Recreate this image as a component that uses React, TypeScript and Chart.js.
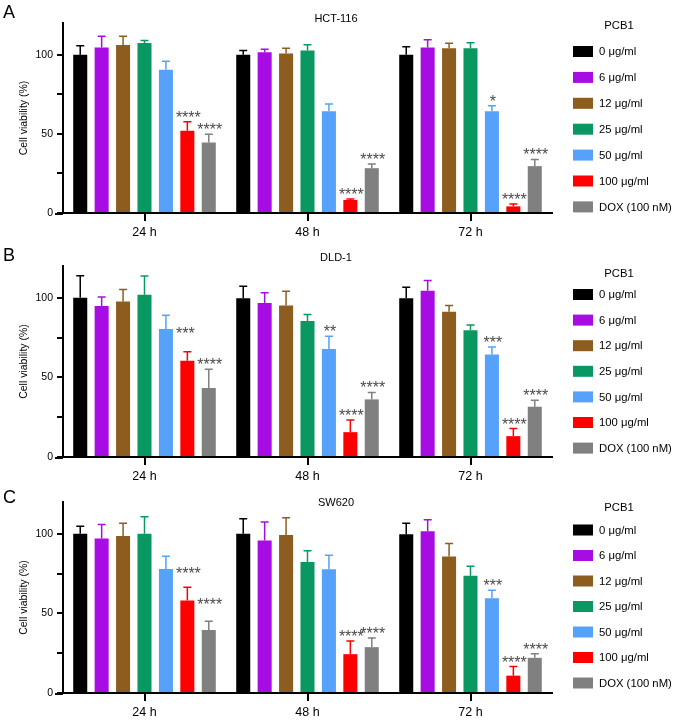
import React, { useEffect, useRef } from 'react';
import { Chart, registerables } from 'chart.js';

Chart.register(...registerables);

const FONT = '"Liberation Sans", Arial, Helvetica, sans-serif';

const categories = ['24 h', '48 h', '72 h'];
const seriesLabels = ['0 μg/ml', '6 μg/ml', '12 μg/ml', '25 μg/ml', '50 μg/ml', '100 μg/ml', 'DOX (100 nM)'];
const seriesColors = ['#000000', '#a70de2', '#8d5d1f', '#0a9862', '#56a2fa', '#ff0000', '#808080'];
const legendTitle = 'PCB1';
const yAxisTitle = 'Cell viability (%)';
const yMax = 120;
const yTickValues = [0, 25, 50, 75, 100];
const yLabeledTicks = [0, 50, 100];

// HCT-116 (rows: series, columns: 24 h, 48 h, 72 h)
const hctMeans = [
  [100, 100, 100],
  [104.6, 101.5, 104.6],
  [106.1, 100.8, 104],
  [107.4, 102.7, 104],
  [90.5, 64.3, 64.3],
  [52, 8.2, 4.2],
  [44.6, 28.3, 29.6],
];
const hctErrors = [
  [5.7, 2.7, 5],
  [7, 1.9, 4.9],
  [5.5, 3.2, 3.2],
  [1.5, 3.6, 3.6],
  [5.3, 4.6, 3.4],
  [5.7, 0.7, 1.5],
  [5.1, 2.6, 4.2],
];
const hctSig = [
  ['', '', ''],
  ['', '', ''],
  ['', '', ''],
  ['', '', ''],
  ['', '', '*'],
  ['****', '****', '****'],
  ['****', '****', '****'],
];
const hctSideGroups: string[] = [];

// DLD-1
const dldMeans = [
  [100, 99.8, 99.8],
  [94.9, 96.8, 104.4],
  [97.7, 95.2, 91.2],
  [101.9, 85.5, 79.6],
  [80.4, 67.8, 64.4],
  [60.4, 15.6, 13.1],
  [43.4, 36.2, 31.6],
];
const dldErrors = [
  [13.9, 7.4, 6.9],
  [5.7, 6.4, 6.5],
  [7.6, 9, 4],
  [11.8, 4, 3.3],
  [8.7, 8, 4.7],
  [5.7, 7.6, 4.8],
  [11.8, 4.4, 4],
];
const dldSig = [
  ['', '', ''],
  ['', '', ''],
  ['', '', ''],
  ['', '', ''],
  ['***', '**', '***'],
  ['****', '****', '****'],
  ['', '****', '****'],
];
const dldSideGroups = ['24 h'];

// SW620
const swMeans = [
  [100, 100, 99.8],
  [97.1, 95.8, 101.7],
  [98.7, 99.2, 85.7],
  [100, 82.3, 73.7],
  [77.9, 77.7, 59.6],
  [58.1, 24.4, 10.9],
  [39.6, 28.8, 22.1],
];
const swErrors = [
  [4.8, 9.5, 6.9],
  [8.8, 11.6, 7.1],
  [8, 10.9, 8.2],
  [10.7, 7, 5.9],
  [8, 8.8, 5],
  [8.4, 8.2, 5.7],
  [5.5, 5.7, 2.5],
];
const swSig = [
  ['', '', ''],
  ['', '', ''],
  ['', '', ''],
  ['', '', ''],
  ['****', '', '***'],
  ['****', '****', '****'],
  ['', '****', '****'],
];
const swSideGroups = ['24 h'];

const panels = [
  { letter: 'A', title: 'HCT-116', means: hctMeans, errors: hctErrors, sig: hctSig, side: hctSideGroups,
    top: 0, height: 238, padTop: 23, letterY: 13, titleY: 19, legendTitleY: 26, legendRowY: 51.5, legendStep: 25.9 },
  { letter: 'B', title: 'DLD-1', means: dldMeans, errors: dldErrors, sig: dldSig, side: dldSideGroups,
    top: 238, height: 244, padTop: 28, letterY: 18, titleY: 20, legendTitleY: 36, legendRowY: 56.5, legendStep: 25.6 },
  { letter: 'C', title: 'SW620', means: swMeans, errors: swErrors, sig: swSig, side: swSideGroups,
    top: 482, height: 236, padTop: 20, letterY: 16, titleY: 21, legendTitleY: 26, legendRowY: 48, legendStep: 25.5 },
];

const decorPlugin = {
  id: 'decor',
  afterDatasetsDraw(chart: any, _args: any, opts: any) {
    const { ctx, chartArea, scales } = chart;
    const y = scales.y;
    ctx.save();
    // x axis extension to the left of the y axis
    ctx.strokeStyle = '#000';
    ctx.lineWidth = 2;
    ctx.beginPath();
    ctx.moveTo(chartArea.left - 8, chartArea.bottom + 1);
    ctx.lineTo(chartArea.left, chartArea.bottom + 1);
    ctx.stroke();
    // error bars
    chart.data.datasets.forEach((ds: any, i: number) => {
      const meta = chart.getDatasetMeta(i);
      meta.data.forEach((bar: any, j: number) => {
        const v = ds.data[j];
        const e = ds.errors[j];
        const topPx = y.getPixelForValue(v + e);
        ctx.strokeStyle = ds.backgroundColor;
        ctx.lineWidth = 1.5;
        ctx.beginPath();
        ctx.moveTo(bar.x, bar.y);
        ctx.lineTo(bar.x, topPx);
        ctx.moveTo(bar.x - 4, topPx);
        ctx.lineTo(bar.x + 4, topPx);
        ctx.stroke();
      });
    });
    // significance marks
    ctx.fillStyle = '#4a4a4a';
    ctx.font = `16px ${FONT}`;
    ctx.textBaseline = 'alphabetic';
    chart.data.datasets.forEach((ds: any, i: number) => {
      const meta = chart.getDatasetMeta(i);
      meta.data.forEach((bar: any, j: number) => {
        const s = ds.sig[j];
        if (!s) return;
        const cat = chart.data.labels[j];
        if (opts.side.includes(cat)) {
          ctx.textAlign = 'left';
          ctx.fillText(s, bar.x + bar.width / 2 + 3, bar.y + 9.5);
        } else {
          const topPx = y.getPixelForValue(ds.data[j] + ds.errors[j]);
          ctx.textAlign = 'center';
          ctx.fillText(s, bar.x + 1, topPx + 1);
        }
      });
    });
    ctx.restore();
  },
  afterDraw(chart: any, _args: any, opts: any) {
    const { ctx } = chart;
    ctx.save();
    ctx.fillStyle = '#000';
    ctx.textBaseline = 'middle';
    // panel letter
    ctx.textAlign = 'left';
    ctx.font = `18px ${FONT}`;
    ctx.fillText(opts.letter, 3, opts.letterY);
    // panel title
    ctx.textAlign = 'center';
    ctx.font = `11px ${FONT}`;
    ctx.fillText(opts.title, 336, opts.titleY);
    // legend
    ctx.font = `11.3px ${FONT}`;
    ctx.fillText(legendTitle, 619, opts.legendTitleY);
    ctx.textAlign = 'left';
    chart.data.datasets.forEach((ds: any, i: number) => {
      const cy = opts.legendRowY + i * opts.legendStep;
      ctx.fillStyle = ds.backgroundColor;
      ctx.fillRect(573, cy - 5.5, 20, 11);
      ctx.fillStyle = '#000';
      ctx.fillText(ds.label, 599, cy + 0.5);
    });
    ctx.restore();
  },
};

function Panel({ cfg }: { cfg: any }) {
  const ref = useRef<HTMLCanvasElement | null>(null);
  useEffect(() => {
    if (!ref.current) return;
    const chart = new Chart(ref.current, {
      type: 'bar',
      data: {
        labels: categories,
        datasets: seriesLabels.map((label, i) => ({
          label,
          data: cfg.means[i],
          errors: cfg.errors[i],
          sig: cfg.sig[i],
          backgroundColor: seriesColors[i],
          borderWidth: 0,
          barPercentage: 0.655,
          categoryPercentage: 0.92,
        })) as any,
      },
      options: {
        responsive: false,
        animation: false,
        devicePixelRatio: 1,
        layout: { padding: { left: 10, right: 125, top: cfg.padTop, bottom: 0 } },
        plugins: {
          legend: { display: false },
          title: { display: false },
          tooltip: { enabled: false },
          decor: {
            letter: cfg.letter, title: cfg.title, side: cfg.side, letterY: cfg.letterY, titleY: cfg.titleY,
            legendTitleY: cfg.legendTitleY, legendRowY: cfg.legendRowY, legendStep: cfg.legendStep,
          },
        } as any,
        scales: {
          x: {
            offset: true,
            grid: { display: true, drawOnChartArea: false, drawTicks: true, tickLength: 8, offset: false, color: '#000', lineWidth: 2 },
            border: { display: true, color: '#000', width: 2 },
            ticks: { color: '#000', font: { family: FONT, size: 12.5 }, padding: 4 },
            afterFit: (s: any) => { s.height = 25; },
          },
          y: {
            min: 0,
            max: yMax,
            grid: { display: true, drawOnChartArea: false, drawTicks: true, tickLength: 6, color: '#000', lineWidth: 2 },
            border: { display: true, color: '#000', width: 2 },
            afterBuildTicks: (s: any) => { s.ticks = yTickValues.map((v) => ({ value: v })); },
            ticks: {
              color: '#000',
              font: { family: FONT, size: 10.5 },
              padding: 4,
              callback: (v: any) => (yLabeledTicks.includes(Number(v)) ? String(v) : ''),
            },
            title: { display: true, text: yAxisTitle, color: '#000', font: { family: FONT, size: 10.5 }, padding: { top: 8, bottom: 0 } },
            afterFit: (s: any) => { s.width = 53; },
          },
        },
      },
      plugins: [decorPlugin],
    });
    return () => chart.destroy();
  }, [cfg]);
  return (
    <div style={{ position: 'absolute', left: 0, top: cfg.top, width: 677, height: cfg.height }}>
      <canvas ref={ref} width={677} height={cfg.height} style={{ display: 'block' }} />
    </div>
  );
}

export default function App() {
  return (
    <div style={{ position: 'absolute', left: 0, top: 0, width: 677, height: 721, background: '#fff' }}>
      {panels.map((p) => (
        <Panel key={p.letter} cfg={p} />
      ))}
    </div>
  );
}
